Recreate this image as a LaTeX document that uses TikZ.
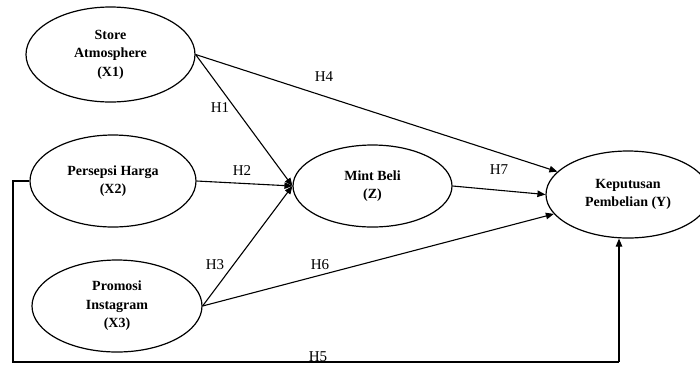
\documentclass[tikz,border=0pt]{standalone}
\usepackage{fontspec}
\setmainfont{Liberation Serif}
\usetikzlibrary{shapes.geometric,arrows.meta}
\begin{document}
\begin{tikzpicture}[x=1pt,y=-1pt,
 var/.style={ellipse,draw,line width=1.2pt,inner sep=0pt,align=center,font=\fontsize{14}{18.5}\selectfont\bfseries},
 arr/.style={line width=1.1pt,-{Triangle[length=8pt,width=6.5pt]}},
 conn/.style={line width=1.1pt},
 hlab/.style={font=\fontsize{15}{18}\selectfont,inner sep=0pt}]
\useasboundingbox (0,0) rectangle (700,365);
\node[var,minimum width=169pt,minimum height=95pt] (X1) at (110.5,54.5) {Store\\Atmosphere\\(X1)};
\node[var,minimum width=166pt,minimum height=92pt] (X2) at (113,181) {Persepsi Harga\\(X2)};
\node[var,minimum width=170pt,minimum height=92pt] (X3) at (117,306) {Promosi\\Instagram\\(X3)};
\node[var,minimum width=159pt,minimum height=82pt] (Z) at (372.5,186) {Mint Beli\\(Z)};
\node[var,minimum width=164pt,minimum height=87pt] (Y) at (628,194.5) {Keputusan\\Pembelian (Y)};
\draw[arr] (X1.east) -- (Y);
\draw[arr] (X1.east) -- (Z.west);
\draw[arr] (X2.east) -- (Z.west);
\draw[arr] (X3.east) -- (Z.west);
\draw[arr] (X3.east) -- (Y);
\draw[arr] (Z.east) -- (Y.west);
\coordinate (c1) at (13,181);
\coordinate (c2) at (13,362);
\coordinate (c3) at (619,362);
\draw[conn] (X2.west) -- (c1) -- (c2) -- (c3);
\draw[arr] (c3) -- (c3 |- Y.south);
\node[hlab] (h4) at (324,77) {H4};
\node[hlab] (h1) at (220,108) {H1};
\node[hlab] (h2) at (242,171) {H2};
\node[hlab] (h7) at (499,170) {H7};
\node[hlab] (h3) at (215,265) {H3};
\node[hlab] (h6) at (320,265) {H6};
\node[hlab] (h5) at (318,357) {H5};
\end{tikzpicture}
\end{document}
